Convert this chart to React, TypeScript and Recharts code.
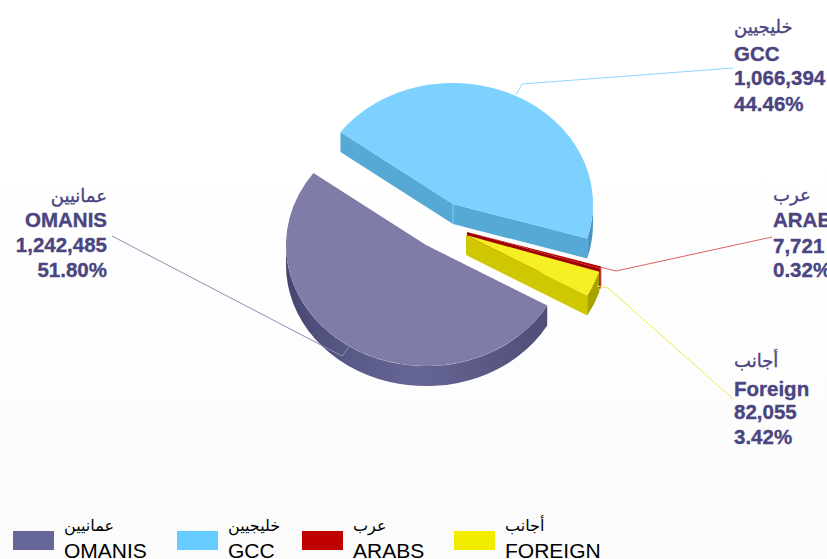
import { PieChart, Pie, Legend } from 'recharts'

const NAMES_AR = ['عمانيين', 'خليجيين', 'عرب', 'أجانب']
const NAMES_EN = ['OMANIS', 'GCC', 'ARABS', 'Foreign']
const LEGEND_EN = ['OMANIS', 'GCC', 'ARABS', 'FOREIGN']
const VALUES = [1242485, 1066394, 7721, 82055]

const TOTAL = VALUES.reduce((a, b) => a + b, 0)
const pieData = NAMES_EN.map((name, i) => ({ name, value: VALUES[i] }))

const TOP_COLORS = ['#7f7ca8', '#7dd1ff', '#c00000', '#f5ef24']
const CUT_COLORS = ['#55547f', '#55a9d4', '#a00000', '#cfc800']
const RIM_COLORS = [
    ['#474670', '#5a5a88', '#666696', '#5b5a86', '#4f4e78'],
    ['#4a96bf', '#4a96bf'],
    ['#a00000', '#a00000'],
    ['#a9a300', '#a9a300'],
]
const LEGEND_COLORS = ['#666699', '#66ccff', '#c00000', '#f2ec00']

const TILT = 0.865
const DEPTH = 20

// how far each slice is pulled away from the pie centre
const EXPLODE = [
    [-14, 21],
    [13, -20],
    [27, 8],
    [26, 11],
]

const LABEL_X = [107, 734, 773, 734]
const LABEL_ANCHOR = ['end', 'start', 'start', 'start']
const LABEL_Y = [
    [202, 227, 252, 277],
    [33, 61, 85, 111],
    [201, 227, 253, 277],
    [367, 396, 419, 444],
]
const LEADERS = [
    '112,236 342,356 349,347',
    '733,68 522,84 516,95',
    '772,237 616,271 600,267',
    '733,399 608,288 597,286',
]
const LEADER_COLORS = ['#8f8db8', '#8fd6ff', '#e06060', '#f0ea50']

const LEGEND_SWATCH_X = [13, 177, 302, 454]
const LEGEND_TEXT_X = [64, 228, 353, 505]

const fmt = (v: number) => v.toLocaleString('en-US')
const pct = (v: number) => ((v / TOTAL) * 100).toFixed(2) + '%'

function Slice3D(props: any) {
    const { cx, cy, outerRadius: r, startAngle, endAngle, index } = props
    const i = index ?? NAMES_EN.indexOf(props.name)
    const ox = cx + EXPLODE[i][0]
    const oy = cy + EXPLODE[i][1]
    const ry = r * TILT
    const pt = (deg: number, drop = 0): [number, number] => [
        ox + r * Math.cos((deg * Math.PI) / 180),
        oy - ry * Math.sin((deg * Math.PI) / 180) + drop,
    ]
    const arc = (to: [number, number], large: boolean, sweep: number) =>
        `A${r} ${ry} 0 ${large ? 1 : 0} ${sweep} ${to[0]} ${to[1]}`

    const a = pt(startAngle)
    const b = pt(endAngle)
    const large = Math.abs(endAngle - startAngle) > 180
    const top = `M${ox} ${oy}L${a[0]} ${a[1]}${arc(b, large, 1)}Z`

    const cut = (deg: number) => {
        const p = pt(deg)
        return `M${ox} ${oy}L${p[0]} ${p[1]}L${p[0]} ${p[1] + DEPTH}L${ox} ${oy + DEPTH}Z`
    }
    const startCut = Math.cos((startAngle * Math.PI) / 180) < 0
    const endCut = Math.cos((endAngle * Math.PI) / 180) > 0

    // only the lower half of the rim faces the viewer
    const rims: [number, number][] = []
    for (let k = -2; k <= 0; k++) {
        const lo = Math.max(endAngle, -180 + k * 360)
        const hi = Math.min(startAngle, k * 360)
        if (hi > lo) rims.push([hi, lo])
    }
    const gradId = `rim-${i}`

    return (
        <g>
            <defs>
                <linearGradient id={gradId} x1="0" y1="0" x2="1" y2="0">
                    {RIM_COLORS[i].map((c, n) => (
                        <stop key={n} offset={n / (RIM_COLORS[i].length - 1)} stopColor={c} />
                    ))}
                </linearGradient>
            </defs>
            {startCut && <path d={cut(startAngle)} fill={CUT_COLORS[i]} />}
            {endCut && <path d={cut(endAngle)} fill={CUT_COLORS[i]} />}
            {startCut && endCut && (
                <line x1={ox} y1={oy} x2={ox} y2={oy + DEPTH} stroke={TOP_COLORS[i]} strokeWidth={1} />
            )}
            {rims.map(([hi, lo]) => {
                const p = pt(hi)
                const q = pt(lo)
                return (
                    <path
                        key={hi}
                        fill={`url(#${gradId})`}
                        d={`M${p[0]} ${p[1]}${arc(q, false, 1)}L${q[0]} ${q[1] + DEPTH}${arc(
                            [p[0], p[1] + DEPTH],
                            false,
                            0
                        )}Z`}
                    />
                )
            })}
            <path d={top} fill={TOP_COLORS[i]} />
        </g>
    )
}

function SliceLabel(props: any) {
    const i = props.index
    const lines = [NAMES_AR[i], NAMES_EN[i], fmt(VALUES[i]), pct(VALUES[i])]
    return (
        <g>
            {lines.map((line, n) => (
                <text
                    key={n}
                    x={LABEL_X[i]}
                    y={LABEL_Y[i][n]}
                    textAnchor={LABEL_ANCHOR[i] as any}
                    fill="#4a4580"
                    stroke="#4a4580"
                    strokeWidth={0.35}
                    fontFamily="Liberation Sans, DejaVu Sans"
                    fontWeight={n === 0 ? 400 : 700}
                    fontSize={n === 0 ? 18 : 20.5}
                >
                    {line}
                </text>
            ))}
        </g>
    )
}

function LeaderLine(props: any) {
    const i = props.index
    return <polyline points={LEADERS[i]} fill="none" stroke={LEADER_COLORS[i]} strokeWidth={1} />
}

function LegendBlock() {
    const textStyle = {
        position: 'absolute',
        lineHeight: '24px',
        fontFamily: 'Liberation Sans, DejaVu Sans',
        color: '#000',
        whiteSpace: 'nowrap',
    } as const
    return (
        <div style={{ position: 'relative', width: 827, height: 559 }}>
            {LEGEND_EN.map((name, i) => (
                <div key={name}>
                    <div
                        style={{
                            position: 'absolute',
                            left: LEGEND_SWATCH_X[i],
                            top: 531,
                            width: 41,
                            height: 19,
                            background: LEGEND_COLORS[i],
                        }}
                    />
                    <div style={{ ...textStyle, left: LEGEND_TEXT_X[i], top: 514, fontSize: 16 }}>
                        {NAMES_AR[i]}
                    </div>
                    <div style={{ ...textStyle, left: LEGEND_TEXT_X[i], top: 539, fontSize: 21 }}>
                        {name}
                    </div>
                </div>
            ))}
        </div>
    )
}

export default function App() {
    return (
        <div
            style={{
                position: 'fixed',
                left: 0,
                top: 0,
                width: 827,
                height: 559,
                overflow: 'hidden',
                background: 'linear-gradient(#ffffff 30%, #fbfbfb 100%)',
            }}
        >
            <PieChart width={827} height={559} margin={{ top: 0, right: 0, bottom: 0, left: 0 }}>
                <Pie
                    data={pieData}
                    dataKey="value"
                    nameKey="name"
                    cx={440}
                    cy={224}
                    innerRadius={0}
                    outerRadius={140}
                    startAngle={-30}
                    endAngle={-390}
                    paddingAngle={0}
                    stroke="none"
                    shape={Slice3D}
                    label={SliceLabel}
                    labelLine={LeaderLine}
                    isAnimationActive={false}
                />
                <Legend
                    content={LegendBlock}
                    height={0}
                    wrapperStyle={{ left: 0, top: 0, width: 827, height: 559 }}
                />
            </PieChart>
        </div>
    )
}
